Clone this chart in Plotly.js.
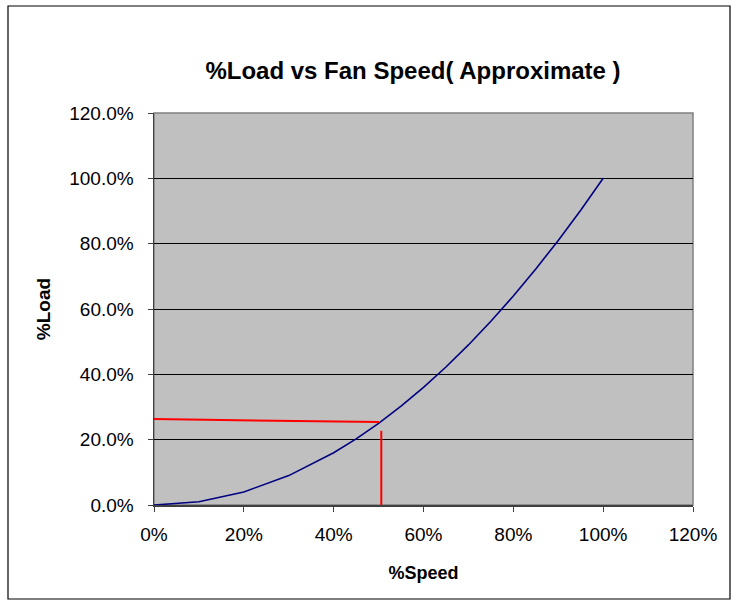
<!DOCTYPE html>
<html>
<head>
<meta charset="utf-8">
<script src="https://cdn.plot.ly/plotly-3.0.1.min.js"></script>
<style>body{margin:0;padding:0;background:#fff;} #chart{width:738px;height:606px;}</style>
</head>
<body>
<div id="chart"></div>
<script>
// Fan curve data
const speed = [0, 0.1, 0.2, 0.3, 0.4, 0.45, 0.5, 0.55, 0.6, 0.65, 0.7, 0.75, 0.8, 0.85, 0.9, 0.95, 1.0];
const load  = [0, 0.01, 0.04, 0.09, 0.16, 0.2025, 0.25, 0.3025, 0.36, 0.4225, 0.49, 0.5625, 0.64, 0.7225, 0.81, 0.9025, 1.0];
// Red reference lines
const hLineX = [0, 0.501];
const hLineY = [0.263, 0.254];
const vLineX = [0.506, 0.506];
const vLineY = [0, 0.227];

const font = 'Liberation Sans, Arial, sans-serif';

const traces = [
  {x: speed, y: load, type: 'scatter', mode: 'lines', line: {color: '#000080', width: 1.6}, hoverinfo: 'skip'},
  {x: hLineX, y: hLineY, type: 'scatter', mode: 'lines', line: {color: '#FF0000', width: 2}, hoverinfo: 'skip'},
  {x: vLineX, y: vLineY, type: 'scatter', mode: 'lines', line: {color: '#FF0000', width: 2}, hoverinfo: 'skip'}
];

const layout = {
  width: 738, height: 606,
  margin: {l: 154, r: 45, t: 113, b: 101},
  paper_bgcolor: '#ffffff',
  plot_bgcolor: '#C0C0C0',
  showlegend: false,
  font: {family: font, size: 18, color: '#000'},
  title: {text: '<b>%Load vs Fan Speed( Approximate )</b>', font: {family: font, size: 24, color: '#000'},
          x: 413/738, xref: 'container', xanchor: 'center', y: 1 - 71/606, yref: 'container', yanchor: 'middle'},
  xaxis: {
    range: [0, 1.2], dtick: 0.2, tick0: 0, tickformat: '.0%',
    showgrid: false, zeroline: false,
    showline: true, linecolor: '#404040', linewidth: 1.5, mirror: false,
    ticks: 'outside', ticklen: 5, tickcolor: '#404040', tickwidth: 1,
    ticklabelstandoff: 7,
    tickfont: {family: font, size: 19, color: '#000'},
    title: {text: '<b>%Speed</b>', font: {family: font, size: 18, color: '#000'}, standoff: 22}
  },
  yaxis: {
    range: [0, 1.2], dtick: 0.2, tick0: 0, tickformat: '.1%',
    showgrid: true, gridcolor: '#000000', gridwidth: 1, zeroline: false,
    showline: true, linecolor: '#404040', linewidth: 1.5, mirror: false,
    ticks: 'outside', ticklen: 5, tickcolor: '#404040', tickwidth: 1,
    ticklabelstandoff: 10,
    tickfont: {family: font, size: 19, color: '#000'},
    title: {text: '<b>%Load</b>', font: {family: font, size: 19, color: '#000'}, standoff: 13}
  },
  shapes: [
    // plot area frame (top/right gray border)
    {type: 'rect', xref: 'paper', yref: 'paper', x0: 0, x1: 1, y0: 0, y1: 1, line: {color: '#808080', width: 1.5}, layer: 'below'},
    // outer chart border
    {type: 'rect', xref: 'paper', yref: 'paper',
     x0: (8 - 154) / 539, x1: (730 - 154) / 539,
     y0: (505 - 599) / 392, y1: (505 - 6) / 392,
     line: {color: '#000000', width: 1.2}}
  ]
};

Plotly.newPlot('chart', traces, layout, {displayModeBar: false, staticPlot: true});
</script>
</body>
</html>
